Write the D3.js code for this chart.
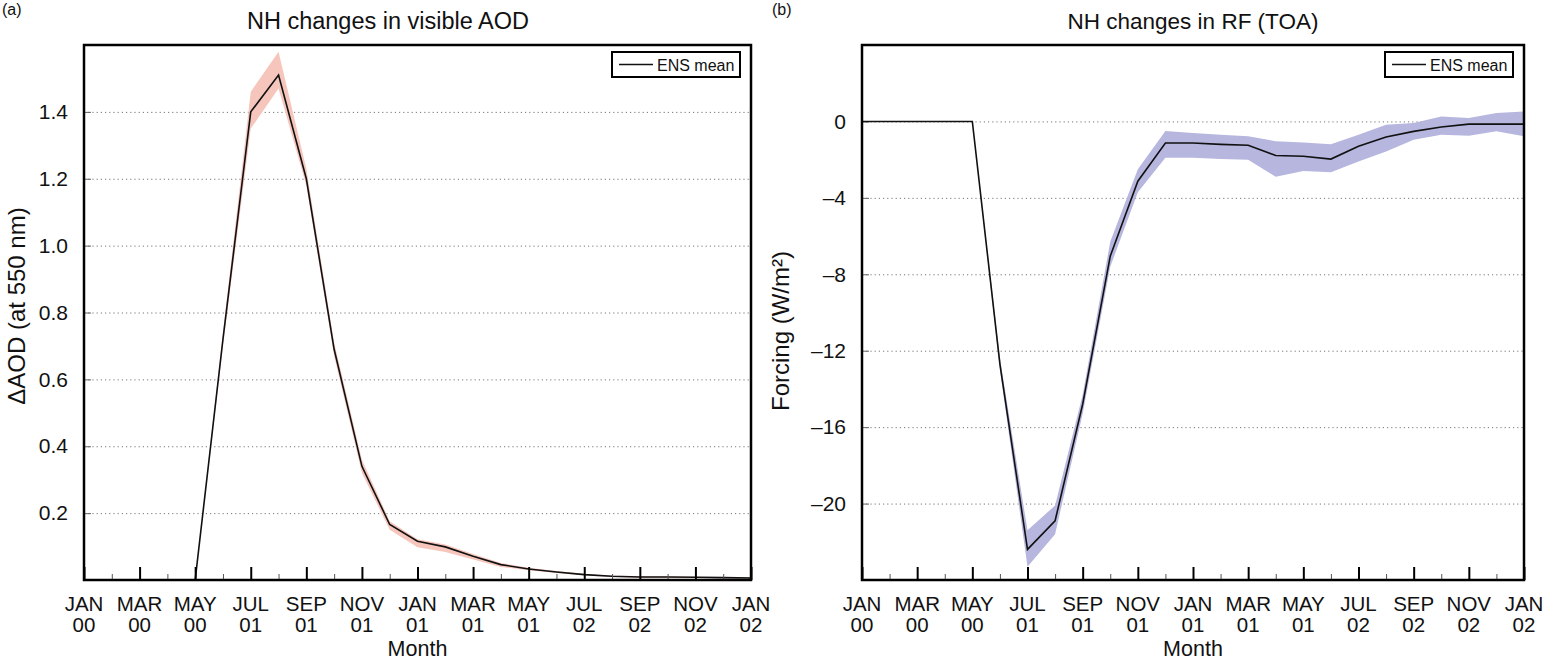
<!DOCTYPE html>
<html>
<head>
<meta charset="utf-8">
<script src="https://cdn.jsdelivr.net/npm/d3@7"></script>
<style>
  body { margin: 0; background: #fff; }
  svg { display: block; font-family: "Liberation Sans", Arial, sans-serif; }
  .grid line { stroke: #777; stroke-dasharray: 1.2 3; stroke-width: 1; }
  .grid path { display: none; }
</style>
</head>
<body>
<svg id="chart" width="1544" height="662"></svg>
<script>
// month index along x (0 = JAN 00 ... 24 = JAN 02)
const monthIndex = [0,1,2,3,4,5,6,7,8,9,10,11,12,13,14,15,16,17,18,19,20,21,22,23,24];
const majorTicks = [0,2,4,6,8,10,12,14,16,18,20,22,24];
const minorTicks = [1,3,5,7,9,11,13,15,17,19,21,23];
const monthLabels = ["JAN","MAR","MAY","JUL","SEP","NOV","JAN","MAR","MAY","JUL","SEP","NOV","JAN"];
const yearLabels  = ["00","00","00","01","01","01","01","01","01","02","02","02","02"];

// panel (a): visible AOD
const aodMean = [0,0,0,0,0,0.72,1.40,1.51,1.20,0.69,0.34,0.166,0.116,0.099,0.071,0.046,0.033,0.024,0.016,0.011,0.009,0.009,0.008,0.007,0.006];
const aodLow  = [0,0,0,0,0,0.70,1.35,1.47,1.18,0.67,0.32,0.150,0.098,0.084,0.061,0.039,0.029,0.021,0.014,0.009,0.007,0.007,0.006,0.005,0.004];
const aodHigh = [0,0,0,0,0,0.74,1.46,1.58,1.23,0.71,0.36,0.176,0.122,0.106,0.078,0.051,0.037,0.027,0.019,0.013,0.011,0.011,0.010,0.009,0.008];
const aodTicks = [0.2,0.4,0.6,0.8,1.0,1.2,1.4];

// panel (b): RF at TOA
const rfMean = [0,0,0,0,0,-12.7,-22.4,-20.9,-14.8,-7.05,-3.13,-1.13,-1.13,-1.2,-1.25,-1.78,-1.82,-1.97,-1.3,-0.81,-0.52,-0.29,-0.14,-0.14,-0.14];
const rfLow  = [0,0,0,0,0,-13.0,-23.3,-21.6,-15.3,-7.6,-3.7,-1.9,-1.9,-1.97,-2.0,-2.9,-2.6,-2.66,-2.1,-1.57,-0.96,-0.7,-0.75,-0.52,-0.78];
const rfHigh = [0,0,0,0,0,-12.4,-21.4,-20.1,-14.3,-6.3,-2.5,-0.5,-0.6,-0.7,-0.78,-1.04,-1.1,-1.2,-0.7,-0.17,-0.08,0.26,0.18,0.44,0.52];
const rfTicks = [-20,-16,-12,-8,-4,0];

const svg = d3.select("#chart");

function drawPanel(p) {
  const g = svg.append("g");
  const x = d3.scaleLinear().domain([0, 24]).range([p.left, p.right]);
  const y = d3.scaleLinear().domain(p.domain).range([p.bottom, p.top]);
  const w = p.right - p.left;

  // dotted gridlines
  g.append("g")
    .attr("class", "grid")
    .attr("transform", `translate(${p.left},0)`)
    .call(d3.axisLeft(y).tickValues(p.yticks).tickSize(-w).tickFormat(""));

  // short inward y ticks
  const ya = g.append("g")
    .attr("transform", `translate(${p.left},0)`)
    .call(d3.axisLeft(y).tickValues(p.yticks).tickSize(-7).tickPadding(16).tickFormat(p.fmt));
  ya.select(".domain").remove();
  ya.selectAll("line").attr("stroke", "#666");
  ya.selectAll("text").attr("font-size", 21).attr("fill", "#111")
    .attr("font-family", "Liberation Sans, Arial, sans-serif");

  // spread band and mean line
  const band = d3.area()
    .x((d, i) => x(monthIndex[i]))
    .y0((d, i) => y(p.low[i]))
    .y1((d, i) => y(p.high[i]));
  g.append("path").datum(p.mean).attr("d", band).attr("fill", p.bandColor);

  const line = d3.line()
    .x((d, i) => x(monthIndex[i]))
    .y(d => y(d));
  g.append("path").datum(p.mean).attr("d", line)
    .attr("fill", "none").attr("stroke", "#111").attr("stroke-width", 1.6)
    .attr("stroke-linejoin", "miter");

  // x ticks, inward
  const xMinor = g.append("g")
    .attr("transform", `translate(0,${p.bottom})`)
    .call(d3.axisBottom(x).tickValues(minorTicks).tickSize(-6).tickFormat(""));
  xMinor.select(".domain").remove();
  xMinor.selectAll("line").attr("stroke", "#555").attr("stroke-width", 1);

  const xMajor = g.append("g")
    .attr("transform", `translate(0,${p.bottom})`)
    .call(d3.axisBottom(x).tickValues(majorTicks).tickSize(-13).tickFormat(""));
  xMajor.select(".domain").remove();
  xMajor.selectAll("line").attr("stroke", "#000").attr("stroke-width", 2);

  const lab = g.append("g").selectAll("text")
    .data(majorTicks)
    .join("text")
      .attr("text-anchor", "middle")
      .attr("font-size", 20.5)
      .attr("fill", "#111");
  lab.append("tspan").attr("x", d => x(d)).attr("y", p.bottom + 31).text((d, i) => monthLabels[i]);
  lab.append("tspan").attr("x", d => x(d)).attr("y", p.bottom + 52).text((d, i) => yearLabels[i]);

  // frame
  g.append("rect")
    .attr("x", p.left).attr("y", p.top)
    .attr("width", w).attr("height", p.bottom - p.top)
    .attr("fill", "none").attr("stroke", "#000").attr("stroke-width", 2.5);

  // legend
  const lx = p.right - 139, ly = p.top + 7;
  g.append("rect").attr("x", lx).attr("y", ly).attr("width", 128).attr("height", 25)
    .attr("fill", "#fff").attr("stroke", "#000").attr("stroke-width", 2);
  g.append("line").attr("x1", lx + 7).attr("x2", lx + 41).attr("y1", ly + 12.5).attr("y2", ly + 12.5)
    .attr("stroke", "#111").attr("stroke-width", 1.3);
  g.append("text").attr("x", lx + 45).attr("y", ly + 18.5)
    .attr("font-size", 16).attr("fill", "#111").text("ENS mean");

  // titles and labels
  const cx = (p.left + p.right) / 2;
  g.append("text").attr("x", p.titleX).attr("y", 29).attr("text-anchor", "middle")
    .attr("font-size", p.titleSize).attr("fill", "#111").text(p.title);
  g.append("text").attr("x", p.tagX).attr("y", 15)
    .attr("font-size", 16).attr("fill", "#111").text(p.tag);
  g.append("text").attr("x", cx).attr("y", 656).attr("text-anchor", "middle")
    .attr("font-size", 21.5).attr("fill", "#111").text("Month");
  g.append("text")
    .attr("transform", `translate(${p.ylabelX},${p.ylabelY}) rotate(-90)`)
    .attr("text-anchor", "middle").attr("font-size", 24).attr("fill", "#111")
    .text(p.ylabel);
}

drawPanel({
  left: 84, right: 751, top: 45, bottom: 580,
  domain: [0, 1.6], yticks: aodTicks, fmt: d3.format(".1f"),
  mean: aodMean, low: aodLow, high: aodHigh, bandColor: "#f6c6bd",
  title: "NH changes in visible AOD", titleX: 388, titleSize: 23.5, tag: "(a)", tagX: 2,
  ylabel: "\u0394AOD (at 550 nm)", ylabelX: 25, ylabelY: 306
});

drawPanel({
  left: 862, right: 1524, top: 45, bottom: 580,
  domain: [-24, 4], yticks: rfTicks, fmt: d => d < 0 ? "\u2013" + (-d) : String(d),
  mean: rfMean, low: rfLow, high: rfHigh, bandColor: "#b6b6df",
  title: "NH changes in RF (TOA)", titleX: 1193, titleSize: 22.5, tag: "(b)", tagX: 772,
  ylabel: "Forcing (W/m\u00b2)", ylabelX: 789, ylabelY: 331
});
</script>
</body>
</html>
